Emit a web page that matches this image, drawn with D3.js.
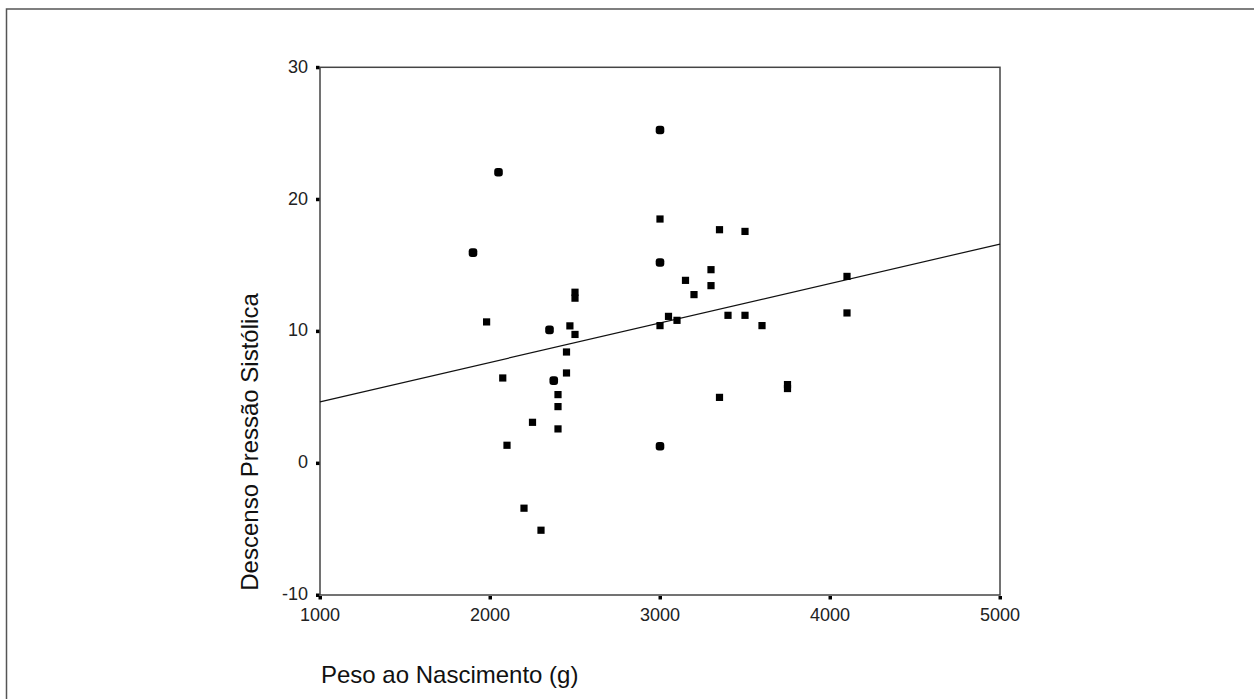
<!DOCTYPE html>
<html lang="pt">
  <head>
    <meta charset="UTF-8" />
    <title>Descenso Pressão Sistólica vs Peso ao Nascimento</title>
    <script src="https://d3js.org/d3.v7.min.js"></script>
    <style>
      body {
        margin: 0;
        background: #fff;
        font-family: "Liberation Sans", Arial, sans-serif;
      }
      .tick-label {
        font-size: 18px;
        fill: #222;
      }
      .title {
        font-size: 24px;
        fill: #111;
      }
    </style>
  </head>
  <body>
    <svg id="chart" width="1254" height="699"></svg>

    <script>
      // birth weight (g), systolic pressure drop, number of overlapping cases
      const birthWeight = [
        2050, 1900, 2500, 2500, 1980, 2350, 2470, 2500, 2075, 2375, 2450,
        2450, 2400, 2400, 2400, 2250, 2100, 2200, 2300, 3000, 3000, 3000,
        3000, 3000, 3350, 3350, 3500, 3500, 3300, 3300, 3150, 3200, 4100,
        4100, 3050, 3100, 3400, 3600, 3750, 3750,
      ];
      const pressureDrop = [
        22.05, 15.95, 12.95, 12.5, 10.7, 10.1, 10.4, 9.75, 6.45, 6.25, 8.42,
        6.83, 5.19, 4.28, 2.59, 3.09, 1.35, -3.42, -5.09, 25.25, 18.5, 15.2,
        10.42, 1.27, 17.69, 4.98, 17.56, 11.2, 14.66, 13.45, 13.85, 12.77,
        14.15, 11.38, 11.12, 10.82, 11.2, 10.42, 5.95, 5.65,
      ];
      const overlap = [
        2, 2, 1, 1, 1, 2, 1, 1, 1, 2, 1, 1, 1, 1, 1, 1, 1, 1, 1, 2, 1, 2, 1,
        2, 1, 1, 1, 1, 1, 1, 1, 1, 1, 1, 1, 1, 1, 1, 1, 1,
      ];

      // fitted line (ends of the plot)
      const fitX = [1000, 5000];
      const fitY = [4.64, 16.6];

      const xTicks = [1000, 2000, 3000, 4000, 5000];
      const yTicks = [-10, 0, 10, 20, 30];

      const svg = d3.select("#chart");

      const x = d3.scaleLinear().domain([1000, 5000]).range([320, 1000]);
      const y = d3.scaleLinear().domain([-10, 30]).range([595, 67.3]);

      // outer frame of the chart window
      svg
        .append("rect")
        .attr("x", 6.5)
        .attr("y", 9)
        .attr("width", 1300)
        .attr("height", 800)
        .attr("fill", "none")
        .attr("stroke", "#555")
        .attr("stroke-width", 1.5);

      // plot frame
      svg
        .append("rect")
        .attr("x", x(1000))
        .attr("y", y(30))
        .attr("width", x(5000) - x(1000))
        .attr("height", y(-10) - y(30))
        .attr("fill", "none")
        .attr("stroke", "#444")
        .attr("stroke-width", 1.5);

      // y ticks
      svg
        .selectAll(".ytick")
        .data(yTicks)
        .enter()
        .append("rect")
        .attr("x", x(1000) - 4)
        .attr("y", (d) => y(d) - 1.5)
        .attr("width", 3.5)
        .attr("height", 3.5)
        .attr("fill", "#000");

      svg
        .selectAll(".ylabel")
        .data(yTicks)
        .enter()
        .append("text")
        .attr("class", "tick-label")
        .attr("x", 308)
        .attr("y", (d) => y(d) - 1)
        .attr("dy", "0.35em")
        .attr("text-anchor", "end")
        .text((d) => d);

      // x ticks
      svg
        .selectAll(".xtick")
        .data(xTicks)
        .enter()
        .append("rect")
        .attr("x", (d) => x(d) - 1.5)
        .attr("y", y(-10) + 1)
        .attr("width", 3.5)
        .attr("height", 3.5)
        .attr("fill", "#000");

      svg
        .selectAll(".xlabel")
        .data(xTicks)
        .enter()
        .append("text")
        .attr("class", "tick-label")
        .attr("x", (d) => x(d))
        .attr("y", 621)
        .attr("text-anchor", "middle")
        .text((d) => d);

      // fit line
      svg
        .append("line")
        .attr("x1", x(fitX[0]))
        .attr("y1", y(fitY[0]))
        .attr("x2", x(fitX[1]))
        .attr("y2", y(fitY[1]))
        .attr("stroke", "#111")
        .attr("stroke-width", 1.2);

      // points
      const points = birthWeight.map((w, i) => ({
        w: w,
        p: pressureDrop[i],
        n: overlap[i],
      }));

      svg
        .selectAll(".pt")
        .data(points)
        .enter()
        .append("rect")
        .attr("class", "pt")
        .attr("x", (d) => x(d.w) - (d.n > 1 ? 4.3 : 3.6))
        .attr("y", (d) => y(d.p) - (d.n > 1 ? 4.3 : 3.6))
        .attr("width", (d) => (d.n > 1 ? 8.6 : 7.2))
        .attr("height", (d) => (d.n > 1 ? 8.6 : 7.2))
        .attr("rx", (d) => (d.n > 1 ? 3 : 0))
        .attr("fill", "#000");

      // axis titles
      svg
        .append("text")
        .attr("class", "title")
        .attr("x", 321)
        .attr("y", 683)
        .text("Peso ao Nascimento (g)");

      svg
        .append("text")
        .attr("class", "title")
        .attr("transform", "translate(258,442) rotate(-90)")
        .attr("text-anchor", "middle")
        .text("Descenso Pressão Sistólica");
    </script>
  </body>
</html>
